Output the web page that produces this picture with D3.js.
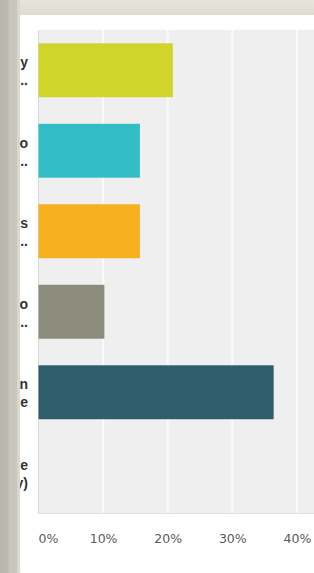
<!DOCTYPE html>
<html>
<head>
<meta charset="utf-8">
<script src="https://cdn.jsdelivr.net/npm/d3@7"></script>
<style>
  html, body { margin: 0; padding: 0; background: #e4e2d8; overflow: hidden; }
  svg { display: block; }
</style>
</head>
<body>
<div id="chart"></div>
<script>
// answer labels (only the visible tail of each label shows in the panel)
var labelLines = [['y', '..'], ['o', '..'], ['s', '..'], ['o', '..'], ['n', 'e'], ['e', 'y)']]
var values = [20.8, 15.7, 15.7, 10.2, 36.4, 0]
var barColors = ['#d1d52b', '#33bec5', '#f7b01f', '#8c8c7c', '#2e5d6b', '#cccccc']
var ticks = [0, 10, 20, 30, 40]

var width = 314
var height = 573
var margin = {top: 30, right: 0, bottom: 60, left: 38.5}

var svg = d3.select('#chart')
  .append('svg')
  .attr('width', width)
  .attr('height', height)

var defs = svg.append('defs')
var lg = defs.append('linearGradient').attr('id', 'side').attr('x1', 0).attr('x2', 1).attr('y1', 0).attr('y2', 0)
lg.append('stop').attr('offset', '0%').attr('stop-color', '#b6b6ae')
lg.append('stop').attr('offset', '40%').attr('stop-color', '#bcbbb2')
lg.append('stop').attr('offset', '45%').attr('stop-color', '#c9c7bd')
lg.append('stop').attr('offset', '85%').attr('stop-color', '#cac8be')
lg.append('stop').attr('offset', '88%').attr('stop-color', '#d9d7ce')
lg.append('stop').attr('offset', '100%').attr('stop-color', '#dcdad1')
var tg = defs.append('linearGradient').attr('id', 'top').attr('x1', 0).attr('x2', 0).attr('y1', 0).attr('y2', 1)
tg.append('stop').attr('offset', '0%').attr('stop-color', '#e8e6dc')
tg.append('stop').attr('offset', '100%').attr('stop-color', '#dedcd2')

defs.append('clipPath').attr('id', 'panelclip')
  .append('rect').attr('x', 20).attr('y', 15).attr('width', width - 20).attr('height', height - 15)

// page frame
svg.append('rect').attr('x', 0).attr('y', 0).attr('width', width).attr('height', 15).attr('fill', 'url(#top)')
svg.append('rect').attr('x', 0).attr('y', 0).attr('width', 20).attr('height', height).attr('fill', 'url(#side)')
svg.append('rect').attr('x', 20).attr('y', 15).attr('width', width - 20).attr('height', height - 15).attr('fill', '#ffffff')

var x = d3.scaleLinear().domain([0, 40]).range([margin.left, margin.left + 64.6 * 4])
var y = d3.scaleBand()
  .domain(d3.range(values.length))
  .range([margin.top, height - margin.bottom])
  .paddingInner(0.33)
  .paddingOuter(0.165)

var plotTop = margin.top
var plotBottom = height - margin.bottom + 0.5

// plot background
svg.append('rect')
  .attr('x', margin.left)
  .attr('y', plotTop)
  .attr('width', width - margin.left)
  .attr('height', plotBottom - plotTop)
  .attr('fill', '#efefef')

// gridlines
svg.append('g')
  .selectAll('line')
  .data(ticks.slice(1))
  .enter()
  .append('line')
  .attr('x1', (d) => { return x(d) })
  .attr('x2', (d) => { return x(d) })
  .attr('y1', plotTop)
  .attr('y2', plotBottom)
  .attr('stroke', '#fbfbfb')
  .attr('stroke-width', 2)

// left and bottom edge
svg.append('line')
  .attr('x1', margin.left).attr('x2', margin.left)
  .attr('y1', plotTop).attr('y2', plotBottom)
  .attr('stroke', '#dadada').attr('stroke-width', 1)
svg.append('line')
  .attr('x1', margin.left).attr('x2', width)
  .attr('y1', plotBottom).attr('y2', plotBottom)
  .attr('stroke', '#dedede').attr('stroke-width', 1)

// bars
svg.append('g')
  .selectAll('rect')
  .data(values)
  .enter()
  .append('rect')
  .attr('x', margin.left)
  .attr('y', (d, i) => { return y(i) })
  .attr('width', (d) => { return x(d) - x(0) })
  .attr('height', y.bandwidth())
  .attr('fill', (d, i) => { return barColors[i] })

// x axis labels
var xAxis = d3.axisBottom(x)
  .tickValues(ticks)
  .tickFormat((d) => { return d + '%' })
  .tickSize(0)
var ax = svg.append('g')
  .attr('transform', 'translate(0,' + 530 + ')')
  .call(xAxis)
ax.select('.domain').remove()
ax.selectAll('text')
  .attr('dy', 0)
  .attr('y', 13)
  .attr('fill', '#5a5a5a')
  .style('font-family', '"DejaVu Sans", Verdana, sans-serif')
  .style('font-size', '12.5px')
ax.selectAll('.tick').filter((d) => { return d === 0 }).select('text')
  .attr('text-anchor', 'start')
  .attr('x', -0.5)

// category labels, clipped by the panel edge
var lab = svg.append('g').attr('clip-path', 'url(#panelclip)')
labelLines.forEach((lines, i) => {
  var cy = y(i) + y.bandwidth() / 2
  var t = lab.append('text')
    .attr('text-anchor', 'end')
    .attr('fill', '#333')
    .style('font-family', 'Arial, "Liberation Sans", sans-serif')
    .style('font-size', '14px')
    .style('font-weight', 'bold')
  lines.forEach((s, j) => {
    t.append('tspan')
      .attr('x', 28)
      .attr('y', cy - 3 + j * 18)
      .text(s)
  })
})
</script>
</body>
</html>
